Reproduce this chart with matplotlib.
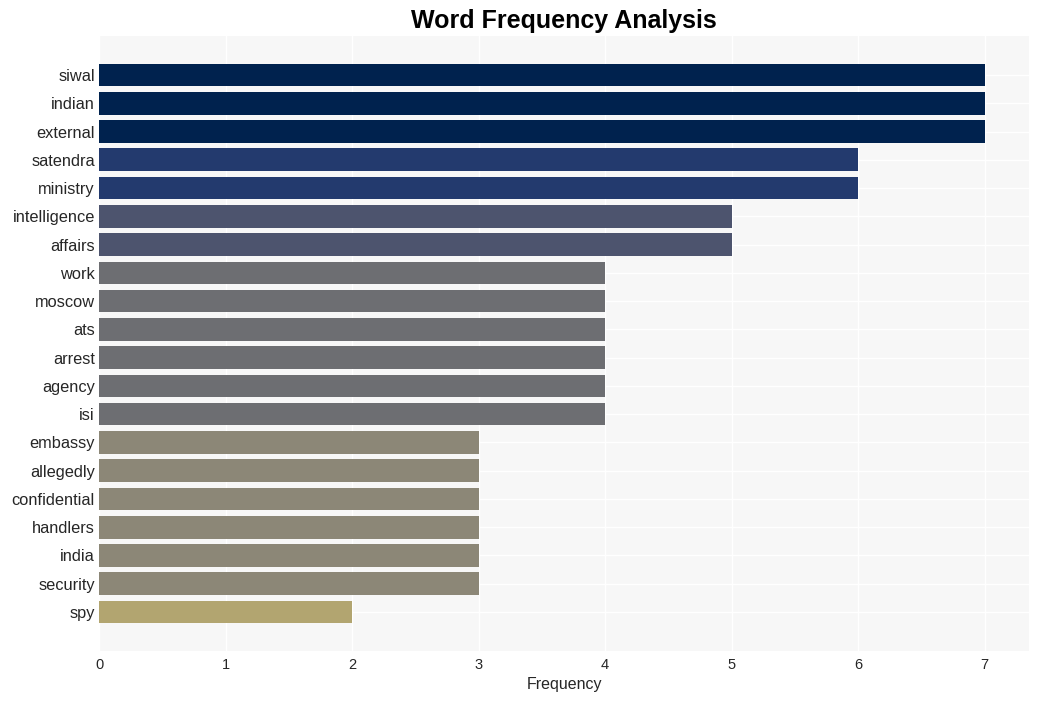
import matplotlib
matplotlib.use("Agg")
import matplotlib.pyplot as plt

plt.rcParams['font.family'] = ['Liberation Sans', 'DejaVu Sans']

words = ["siwal", "indian", "external", "satendra", "ministry", "intelligence", "affairs",
         "work", "moscow", "ats", "arrest", "agency", "isi", "embassy", "allegedly",
         "confidential", "handlers", "india", "security", "spy"]
freqs = [7, 7, 7, 6, 6, 5, 5, 4, 4, 4, 4, 4, 4, 3, 3, 3, 3, 3, 3, 2]
color_by_value = {7: "#00224e", 6: "#233a6e", 5: "#4d546e", 4: "#6d6e72", 3: "#8c8777", 2: "#b2a570"}

fig = plt.figure(figsize=(10.39, 7.01), dpi=100)
ax = fig.add_axes([99/1039, 1 - 651/701, (1029-99)/1039, (651-36)/701])
ax.set_facecolor("#f7f7f7")
y = list(range(len(words)))
ax.barh(y, freqs, height=0.8, color=[color_by_value[f] for f in freqs], zorder=2)
ax.set_yticks(y)
ax.set_yticklabels(words, fontsize=11.8, color="#262626")
ax.set_ylim(len(words) - 1 + 1.38, -1.38)
ax.set_xlim(0, 7.35)
ax.set_xticks(range(0, 8))
ax.tick_params(axis="x", labelsize=10.5, colors="#262626", length=0, pad=5)
ax.tick_params(axis="y", length=0, pad=3)
ax.grid(True, color="white", linewidth=1, zorder=0)
ax.set_axisbelow(True)
for s in ax.spines.values():
    s.set_visible(False)
ax.set_xlabel("Frequency", fontsize=11.5, color="#262626", labelpad=4)
fig.text(564/1039, 1 - 21/701, "Word Frequency Analysis", fontsize=18, fontweight="bold",
         ha="center", va="center")
fig.savefig("out.png", dpi=100)
